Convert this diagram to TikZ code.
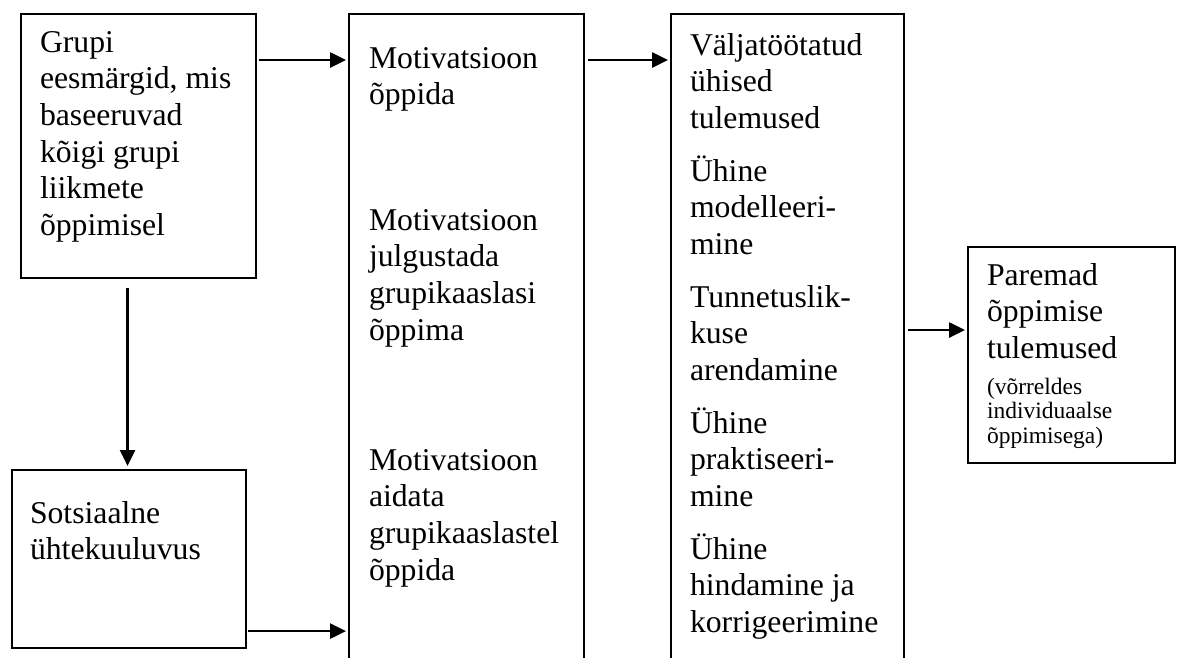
\documentclass[tikz,border=0pt]{standalone}
\usepackage{fontspec}
\setmainfont{Liberation Serif}
\usetikzlibrary{arrows.meta,calc}
\newcommand\myBig{\fontsize{31.7pt}{36.7pt}\selectfont}
\newcommand\mySmall{\fontsize{23.5pt}{24.5pt}\selectfont}
\begin{document}
\begin{tikzpicture}[x=1pt,y=-1pt,
  box/.style={draw, line width=2.1pt, inner sep=0pt, anchor=north west},
  conn/.style={line width=2.6pt, -{Triangle[length=16pt,width=15pt]}},
  txt/.style={anchor=base west, inner sep=0pt, outer sep=0pt},
]
\useasboundingbox (0,0) rectangle (1177,657);
\clip (0,0) rectangle (1177,657);
% boxes
\node[box, minimum width=235pt, minimum height=264pt] (A) at (20,13) {};
\node[box, minimum width=234pt, minimum height=178pt] (S) at (11,469) {};
\node[box, minimum width=235pt, minimum height=720pt] (M) at (348,13) {};
\node[box, minimum width=233pt, minimum height=720pt] (V) at (670,13) {};
\node[box, minimum width=207pt, minimum height=216pt] (P) at (967,246) {};
% texts
\node[txt] (tA) at (40,52) {\parbox[t]{220pt}{\myBig Grupi\\eesmärgid, mis\\baseeruvad\\kõigi grupi\\liikmete\\õppimisel}};
\node[txt] (tS) at (30,523) {\parbox[t]{220pt}{\myBig Sotsiaalne\\ühtekuuluvus}};
\node[txt] (tM1) at (369,68) {\parbox[t]{220pt}{\myBig Motivatsioon\\õppida}};
\node[txt] (tM2) at (369,230) {\parbox[t]{220pt}{\myBig Motivatsioon\\julgustada\\grupikaaslasi\\õppima}};
\node[txt] (tM3) at (369,470) {\parbox[t]{220pt}{\myBig Motivatsioon\\aidata\\grupikaaslastel\\õppida}};
\node[txt] (tV1) at (690,55) {\parbox[t]{210pt}{\myBig Väljatöötatud\\ühised\\tulemused}};
\node[txt] (tV2) at (690,181) {\parbox[t]{210pt}{\myBig Ühine\\modelleeri-\\mine}};
\node[txt] (tV3) at (690,307) {\parbox[t]{210pt}{\myBig Tunnetuslik-\\kuse\\arendamine}};
\node[txt] (tV4) at (690,433) {\parbox[t]{210pt}{\myBig Ühine\\praktiseeri-\\mine}};
\node[txt] (tV5) at (690,559) {\parbox[t]{210pt}{\myBig Ühine\\hindamine ja\\korrigeerimine}};
\node[txt] (tP1) at (987,285) {\parbox[t]{180pt}{\myBig Paremad\\õppimise\\tulemused}};
\node[txt] (tP2) at (987,394) {\parbox[t]{180pt}{\mySmall (võrreldes\\individuaalse\\õppimisega)}};
% connectors
\draw[conn] ($(A.north east)+(2,47)$) -- ($(M.north west)+(-2,47)$);
\draw[conn] ($(M.north east)+(3,47)$) -- ($(V.north west)+(-2,47)$);
\draw[conn] ($(V.north east)+(3,317)$) -- ($(P.north west)+(-2,84)$);
\coordinate (a1) at ($(A.south)+(-11,9)$);
\draw[conn] (a1) -- ([yshift=3pt]a1 |- S.north);
\coordinate (s1) at ($(S.south east)+(1,-18)$);
\draw[conn] (s1) -- ([xshift=-2pt]s1 -| M.west);
\end{tikzpicture}
\end{document}
